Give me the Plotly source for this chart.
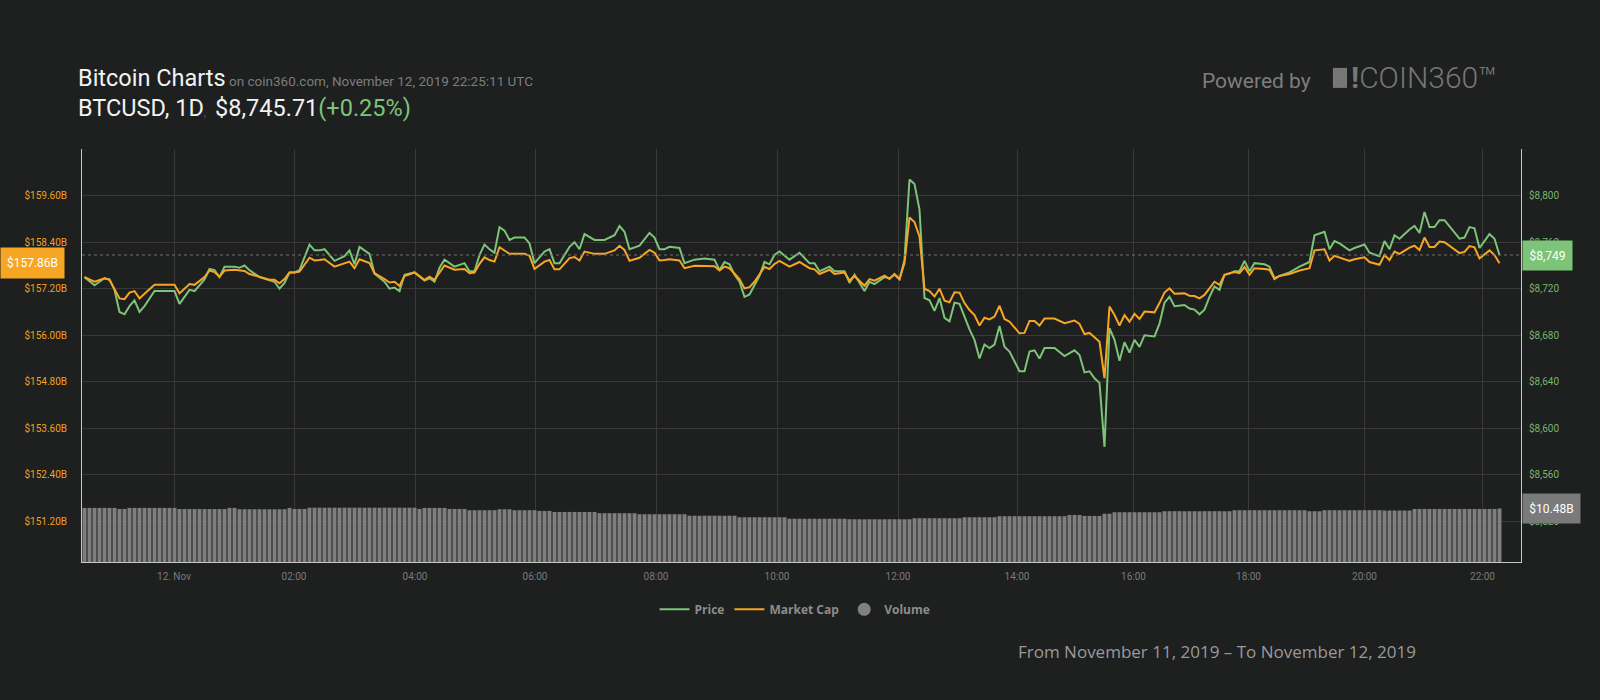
import plotly.graph_objects as go

# Points are 5-minute samples numbered left to right along the (ordinal) time axis
line_idx = [
    0, 2, 4, 5, 6, 7, 8, 9, 10, 11,
    12, 14, 16, 18, 19, 21, 22, 24, 25, 26,
    27, 28, 30, 31, 32, 33, 35, 37, 38, 39,
    40, 41, 42, 43, 45, 46, 47, 48, 50, 52,
    53, 54, 55, 57, 58, 60, 61, 62, 63, 64,
    66, 68, 69, 70, 71, 72, 74, 76, 77, 78,
    79, 80, 81, 82, 83, 84, 85, 86, 88, 89,
    90, 92, 93, 94, 95, 97, 98, 99, 100, 102,
    104, 106, 107, 108, 109, 111, 113, 114, 115, 116,
    117, 119, 120, 122, 124, 126, 127, 128, 129, 130,
    131, 132, 133, 134, 135, 136, 137, 138, 139, 141,
    143, 145, 146, 147, 149, 150, 152, 153, 154, 156,
    157, 158, 160, 161, 162, 163, 164, 165, 166, 167,
    168, 169, 170, 171, 172, 173, 174, 175, 176, 177,
    178, 179, 180, 181, 182, 183, 184, 185, 187, 188,
    189, 190, 191, 192, 194, 196, 198, 199, 200, 201,
    202, 203, 204, 205, 206, 207, 208, 209, 210, 211,
    212, 214, 215, 216, 217, 218, 220, 221, 222, 223,
    224, 225, 226, 227, 228, 229, 230, 231, 232, 233,
    234, 236, 237, 238, 239, 241, 243, 245, 246, 248,
    249, 250, 251, 253, 254, 256, 257, 259, 260, 261,
    262, 263, 265, 266, 267, 268, 269, 270, 271, 272,
    275, 276, 277, 278, 279, 281, 282, 283,
]

# BTC price, USD
price = [
    8730, 8723, 8729, 8728, 8719, 8700, 8698, 8705, 8710, 8700,
    8705, 8718, 8718, 8718, 8707, 8719, 8718, 8728, 8737, 8736,
    8730, 8739, 8739, 8738, 8740, 8736, 8730, 8727, 8726, 8720,
    8725, 8734, 8734, 8736, 8758, 8753, 8753, 8754, 8744, 8748,
    8753, 8741, 8756, 8750, 8733, 8726, 8720, 8721, 8718, 8732,
    8734, 8727, 8729, 8726, 8738, 8745, 8739, 8742, 8735, 8735,
    8749, 8758, 8754, 8751, 8773, 8770, 8762, 8764, 8764, 8759,
    8742, 8752, 8754, 8742, 8742, 8756, 8760, 8754, 8767, 8762,
    8762, 8766, 8774, 8769, 8754, 8757, 8768, 8764, 8754, 8754,
    8756, 8755, 8742, 8745, 8746, 8745, 8736, 8743, 8741, 8732,
    8726, 8713, 8715, 8723, 8731, 8743, 8741, 8749, 8752, 8745,
    8751, 8742, 8742, 8735, 8739, 8735, 8735, 8725, 8732, 8718,
    8726, 8724, 8730, 8729, 8732, 8728, 8745, 8814, 8810, 8788,
    8712, 8710, 8701, 8712, 8695, 8692, 8708, 8707, 8696, 8685,
    8676, 8660, 8672, 8669, 8672, 8688, 8670, 8666, 8649, 8649,
    8666, 8667, 8660, 8669, 8669, 8662, 8667, 8663, 8648, 8649,
    8643, 8639, 8584, 8686, 8676, 8658, 8674, 8665, 8676, 8670,
    8680, 8679, 8690, 8708, 8713, 8705, 8706, 8703, 8702, 8698,
    8702, 8713, 8722, 8719, 8732, 8733, 8735, 8735, 8744, 8735,
    8742, 8741, 8739, 8729, 8731, 8734, 8739, 8743, 8766, 8769,
    8754, 8761, 8759, 8753, 8755, 8758, 8751, 8748, 8761, 8754,
    8766, 8763, 8771, 8774, 8768, 8786, 8773, 8773, 8779, 8779,
    8763, 8764, 8773, 8772, 8755, 8767, 8763, 8749,
]

# market cap, billions USD
market_cap = [
    157.50, 157.38, 157.47, 157.43, 157.19, 156.95, 156.93, 157.10, 157.14, 156.95,
    157.07, 157.30, 157.30, 157.30, 157.08, 157.32, 157.30, 157.50, 157.67, 157.63,
    157.51, 157.67, 157.69, 157.68, 157.66, 157.58, 157.51, 157.43, 157.43, 157.34,
    157.45, 157.62, 157.62, 157.64, 158.00, 157.93, 157.94, 157.96, 157.77, 157.85,
    157.90, 157.73, 157.96, 157.86, 157.60, 157.45, 157.36, 157.38, 157.27, 157.53,
    157.62, 157.43, 157.51, 157.43, 157.63, 157.80, 157.69, 157.71, 157.60, 157.62,
    157.84, 158.01, 157.94, 157.90, 158.27, 158.19, 158.10, 158.10, 158.10, 158.05,
    157.71, 157.90, 157.94, 157.70, 157.70, 157.99, 158.02, 157.93, 158.16, 158.10,
    158.10, 158.19, 158.31, 158.20, 157.92, 158.00, 158.20, 158.13, 157.93, 157.94,
    157.96, 157.93, 157.73, 157.79, 157.79, 157.78, 157.67, 157.77, 157.73, 157.60,
    157.45, 157.21, 157.24, 157.38, 157.57, 157.76, 157.71, 157.84, 157.92, 157.77,
    157.89, 157.73, 157.70, 157.58, 157.69, 157.58, 157.62, 157.41, 157.53, 157.28,
    157.45, 157.41, 157.54, 157.45, 157.58, 157.45, 157.86, 159.04, 158.92, 158.55,
    157.20, 157.14, 157.00, 157.20, 156.89, 156.85, 157.11, 157.10, 156.83, 156.65,
    156.52, 156.25, 156.45, 156.41, 156.48, 156.76, 156.42, 156.35, 156.05, 156.06,
    156.37, 156.37, 156.25, 156.43, 156.43, 156.31, 156.38, 156.29, 156.03, 156.06,
    155.95, 155.83, 154.89, 156.74, 156.52, 156.25, 156.52, 156.35, 156.55, 156.42,
    156.61, 156.59, 156.83, 157.10, 157.21, 157.07, 157.08, 157.02, 157.01, 156.95,
    157.04, 157.21, 157.38, 157.30, 157.56, 157.60, 157.63, 157.60, 157.76, 157.56,
    157.73, 157.71, 157.69, 157.45, 157.53, 157.58, 157.67, 157.73, 158.19, 158.22,
    157.93, 158.05, 158.01, 157.92, 157.96, 158.01, 157.89, 157.82, 158.07, 157.94,
    158.16, 158.10, 158.26, 158.31, 158.20, 158.52, 158.28, 158.28, 158.42, 158.40,
    158.12, 158.15, 158.30, 158.27, 157.98, 158.19, 158.07, 157.86,
]

# 24h volume, billions USD, one bar per point (284 bars)
volume = [
    10.60, 10.60, 10.60, 10.60, 10.60, 10.60, 10.60, 10.40, 10.40, 10.60,
    10.60, 10.60, 10.60, 10.60, 10.60, 10.60, 10.60, 10.60, 10.60, 10.38,
    10.38, 10.38, 10.38, 10.38, 10.38, 10.38, 10.38, 10.38, 10.38, 10.60,
    10.60, 10.34, 10.34, 10.34, 10.34, 10.34, 10.34, 10.34, 10.34, 10.34,
    10.34, 10.60, 10.40, 10.40, 10.40, 10.64, 10.64, 10.64, 10.64, 10.64,
    10.64, 10.64, 10.64, 10.64, 10.64, 10.64, 10.64, 10.64, 10.64, 10.64,
    10.64, 10.64, 10.64, 10.64, 10.64, 10.64, 10.64, 10.40, 10.60, 10.60,
    10.60, 10.60, 10.60, 10.40, 10.40, 10.40, 10.40, 10.15, 10.15, 10.15,
    10.15, 10.15, 10.15, 10.34, 10.34, 10.34, 10.15, 10.15, 10.15, 10.15,
    10.15, 10.01, 10.01, 10.01, 9.81, 9.81, 9.81, 9.81, 9.81, 9.81,
    9.81, 9.81, 9.81, 9.56, 9.56, 9.56, 9.56, 9.56, 9.56, 9.56,
    9.56, 9.36, 9.36, 9.36, 9.36, 9.36, 9.36, 9.36, 9.36, 9.36,
    9.36, 9.07, 9.07, 9.07, 9.07, 9.07, 9.07, 9.07, 9.07, 9.07,
    9.07, 8.77, 8.77, 8.77, 8.77, 8.77, 8.77, 8.77, 8.77, 8.77,
    8.77, 8.48, 8.48, 8.48, 8.48, 8.48, 8.48, 8.48, 8.48, 8.48,
    8.48, 8.48, 8.48, 8.38, 8.38, 8.38, 8.38, 8.38, 8.38, 8.38,
    8.38, 8.38, 8.38, 8.38, 8.38, 8.38, 8.58, 8.58, 8.58, 8.58,
    8.58, 8.58, 8.58, 8.58, 8.58, 8.58, 8.77, 8.77, 8.77, 8.77,
    8.77, 8.77, 8.77, 8.97, 8.97, 8.97, 8.97, 8.97, 8.97, 8.97,
    8.97, 8.97, 8.97, 8.97, 8.97, 8.97, 8.97, 9.22, 9.22, 9.22,
    9.03, 9.03, 9.03, 9.03, 9.46, 9.46, 9.75, 9.75, 9.75, 9.75,
    9.75, 9.75, 9.75, 9.75, 9.75, 9.75, 9.95, 9.95, 9.95, 9.95,
    9.95, 9.95, 9.95, 9.95, 9.95, 9.95, 9.95, 9.95, 9.95, 9.95,
    10.15, 10.15, 10.15, 10.15, 10.15, 10.15, 10.15, 10.15, 10.15, 10.15,
    10.15, 10.15, 10.15, 10.15, 10.15, 9.95, 9.95, 9.95, 10.15, 10.15,
    10.15, 10.15, 10.15, 10.15, 10.15, 10.15, 10.15, 10.15, 10.15, 10.15,
    10.09, 10.09, 10.09, 10.09, 10.09, 10.09, 10.40, 10.40, 10.40, 10.40,
    10.40, 10.40, 10.40, 10.40, 10.40, 10.40, 10.40, 10.40, 10.40, 10.40,
    10.40, 10.40, 10.40, 10.48,
]

# time labels and where they fall on the ordinal axis
tick_pos = [17.9, 41.9, 66.1, 90.1, 114.3, 138.5, 162.7, 186.5, 209.8, 232.8, 256.0, 279.6]
tick_text = ["12. Nov", "02:00", "04:00", "06:00", "08:00", "10:00",
             "12:00", "14:00", "16:00", "18:00", "20:00", "22:00"]

price_ticks = [8520, 8560, 8600, 8640, 8680, 8720, 8760, 8800, 8840]
cap_ticks = [151.2, 152.4, 153.6, 154.8, 156.0, 157.2, 158.4, 159.6]

last_price = 8749
last_cap = 157.86
last_volume = 10.48

BG = "#1e1f1f"
GRID = "#393939"
GREEN = "#7dc478"
ORANGE = "#f7a623"
GREY = "#7f7f7f"

price_labels = [f"${v:,}" if v < 8840 else "" for v in price_ticks]
cap_labels = [f"${v:.2f}B" for v in cap_ticks]

fig = go.Figure()

fig.add_trace(go.Bar(
    x=list(range(len(volume))), y=volume, name="Volume",
    marker=dict(color=GREY, line=dict(width=0)),
    showlegend=False, yaxis="y", hoverinfo="skip"
))
fig.add_trace(go.Scatter(
    x=line_idx, y=price, name="Price", mode="lines",
    line=dict(color=GREEN, width=2), yaxis="y2", legendrank=1
))
fig.add_trace(go.Scatter(
    x=line_idx, y=market_cap, name="Market Cap", mode="lines",
    line=dict(color=ORANGE, width=2), yaxis="y3", legendrank=2
))
# legend entry for the volume bars (round marker like the original)
fig.add_trace(go.Scatter(
    x=[None], y=[None], name="Volume", mode="markers",
    marker=dict(color="#808080", size=13, symbol="circle"),
    yaxis="y", legendrank=3
))

tick_font = dict(family="Roboto", size=10)

fig.update_layout(
    width=1600, height=700,
    paper_bgcolor=BG, plot_bgcolor=BG,
    margin=dict(l=82, r=79, t=149, b=138),
    bargap=0.2,
    legend=dict(
        orientation="h", x=0.4955, xanchor="center", y=-0.1147, yanchor="middle",
        font=dict(family="Open Sans", size=12, color="#8c8c8c", weight="bold"),
        itemwidth=30, bgcolor="rgba(0,0,0,0)"
    ),
    xaxis=dict(
        range=[-0.5, 287.3], tickvals=tick_pos, ticktext=tick_text,
        showgrid=True, gridcolor=GRID, gridwidth=1, zeroline=False,
        showline=True, linecolor="#c8c8c8", linewidth=1,
        ticks="outside", ticklen=5, tickcolor=BG,
        tickfont=dict(tick_font, color="#7b7b7b")
    ),
    yaxis=dict(
        range=[0, 80.93], showgrid=False, showticklabels=False,
        showline=False, zeroline=False
    ),
    yaxis2=dict(
        range=[8484.9, 8840.2], overlaying="y", side="right",
        tickvals=price_ticks, ticktext=price_labels,
        showgrid=True, gridcolor=GRID, gridwidth=1, zeroline=False,
        showline=True, linecolor="#c8c8c8", linewidth=1,
        ticks="outside", ticklen=5, tickcolor=BG,
        tickfont=dict(tick_font, color="#78b56f")
    ),
    yaxis3=dict(
        range=[150.148, 160.806], overlaying="y", side="left",
        tickvals=cap_ticks, ticktext=cap_labels,
        showgrid=False, zeroline=False,
        showline=True, linecolor="#c8c8c8", linewidth=1,
        ticks="outside", ticklen=12, tickcolor=BG,
        tickfont=dict(tick_font, color="#f0a020")
    ),
)

# dotted line at the latest price
fig.add_shape(type="line", xref="paper", x0=0, x1=1, yref="y2", y0=last_price, y1=last_price,
              line=dict(color="#707070", width=1, dash="dot"))

# COIN360 logo block
fig.add_shape(type="rect", xref="paper", yref="paper", x0=0.8693, x1=0.8791, y0=1.1479, y1=1.1964,
              fillcolor="#777777", line=dict(width=0))

annotations = [
    dict(text="Bitcoin Charts<span style='font-size:13.5px;color:#7d7d7d'> on coin360.com, "
              "November 12, 2019 22:25:11 UTC</span>",
         x=-0.0042, y=1.1708, xanchor="left", yanchor="middle",
         font=dict(family="Roboto", size=23.5, color="#f2f2f2")),
    dict(text="BTCUSD, 1D<span style='font-size:12px;color:#555555'>, </span> $8,745.71"
              "<span style='color:#7dc478'>(+0.25%)</span>",
         x=-0.0042, y=1.0982, xanchor="left", yanchor="middle",
         font=dict(family="Roboto", size=23.5, color="#f2f2f2")),
    dict(text="Powered by", x=0.8555, y=1.1654, xanchor="right", yanchor="middle",
         font=dict(family="Roboto", size=21, color="#7e7e7e")),
    dict(text="<b>!</b>COIN360™", x=0.8805, y=1.1721, xanchor="left", yanchor="middle",
         font=dict(family="Roboto", size=30, color="#777777", weight=300)),
    dict(text="From November 11, 2019 \u2013 To November 12, 2019",
         x=0.9284, y=-0.2168, xanchor="right", yanchor="middle",
         font=dict(family="Open Sans", size=17, color="#9a9a9a")),
    # value flags on the axes
    dict(text=f"${last_cap:.2f}B", xref="paper", yref="y3", x=-0.05698, y=last_cap,
         xanchor="left", yanchor="middle", width=63, height=30, bgcolor=ORANGE,
         borderpad=0, font=dict(family="Roboto", size=12, color="#ffffff")),
    dict(text=f"${last_price:,}", xref="paper", yref="y2", x=1.0007, y=last_price,
         xanchor="left", yanchor="middle", width=49, height=29, bgcolor=GREEN,
         borderpad=0, font=dict(family="Roboto", size=12, color="#ffffff")),
    dict(text=f"${last_volume:.2f}B", xref="paper", yref="y", x=1.0007, y=last_volume,
         xanchor="left", yanchor="middle", width=57, height=29, bgcolor="#7a7a7a",
         borderpad=0, font=dict(family="Roboto", size=12, color="#ffffff")),
]
for a in annotations:
    a.setdefault("xref", "paper")
    a.setdefault("yref", "paper")
    a["showarrow"] = False
    fig.add_annotation(**a)

fig.write_html("out.html", config={"displayModeBar": False},
               post_script="document.body.style.margin='0';")
